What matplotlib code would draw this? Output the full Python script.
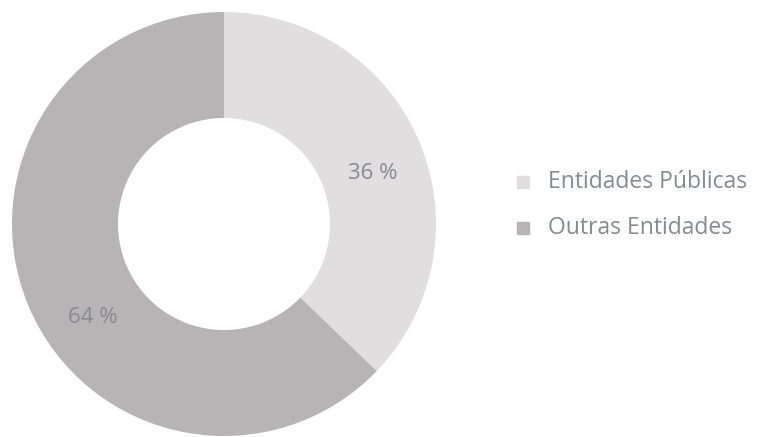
import matplotlib.pyplot as plt
from matplotlib.patches import Rectangle

labels = ["Entidades Públicas", "Outras Entidades"]
values = [37.2, 62.8]
pct_labels = ["36 %", "64 %"]
colors = ["#e0dedf", "#b8b4b5"]
text_color = "#868a91"

plt.rcParams['font.family'] = ['Open Sans', 'DejaVu Sans']

fig = plt.figure(figsize=(7.66, 4.37), dpi=100)
ax = fig.add_axes([12 / 766, 1 / 437, 424 / 766, 424 / 437])
wedges, _ = ax.pie(values, colors=colors, startangle=90, counterclock=False,
                   radius=1.0, wedgeprops=dict(width=0.5, linewidth=0))
ax.set_xlim(-1, 1)
ax.set_ylim(-1, 1)
ax.set_aspect('equal')
ax.axis('off')

# percentage labels
label_pos = [(0.70, 0.24), (-0.62, -0.44)]
for txt, (x, y) in zip(pct_labels, label_pos):
    ax.text(x, y, txt, ha='center', va='center',
            fontsize=16, color=text_color)

# legend
for i, (lab, col) in enumerate(zip(labels, colors)):
    y = 1 - (182 + i * 46) / 437
    fig.patches.append(Rectangle((517 / 766, y - 6 / 437), 12 / 766, 12 / 437,
                                 transform=fig.transFigure, color=col))
    fig.text(548 / 766, y, lab, ha='left', va='center',
             fontsize=16.5, color=text_color)

fig.savefig("out.png", dpi=100)
